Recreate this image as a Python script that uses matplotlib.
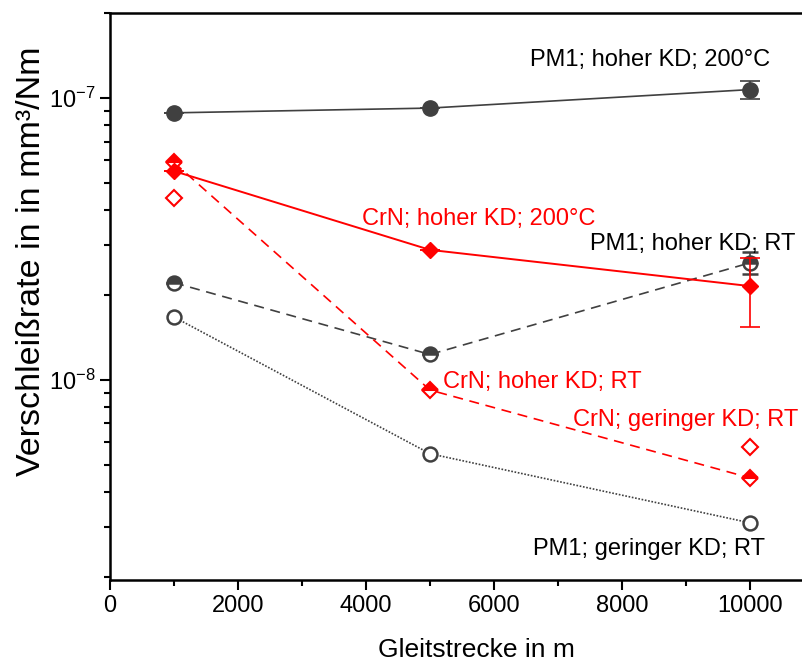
import matplotlib
matplotlib.use("Agg")
import matplotlib.pyplot as plt
from matplotlib.ticker import FixedLocator, LogLocator, NullFormatter

plt.rcParams['font.family'] = ['Liberation Sans', 'DejaVu Sans']

x = [1000, 5000, 10000]
pm1_hoch_200 = [8.85e-8, 9.2e-8, 1.07e-7]
pm1_hoch_200_err = [0, 0, 8e-9]
crn_hoch_200 = [5.5e-8, 2.89e-8, 2.15e-8]
crn_hoch_200_lo = [0, 0, 0.61e-8]
crn_hoch_200_hi = [0, 0, 0.56e-8]
crn_hoch_rt = [5.9e-8, 9.2e-9, 4.49e-9]
crn_ger_x = [1000, 10000]
crn_ger_rt = [4.41e-8, 5.78e-9]
pm1_hoch_rt = [2.21e-8, 1.23e-8, 2.6e-8]
pm1_hoch_rt_err = [0, 0, 2.3e-9]
pm1_ger_rt = [1.67e-8, 5.47e-9, 3.11e-9]

gray = '#404040'
red = '#ff0000'

W, H = 802, 666
fig = plt.figure(figsize=(W/100, H/100), dpi=100)
l, r, t, b = 110, 812, 13, 580
ax = fig.add_axes([l/W, (H-b)/H, (r-l)/W, (b-t)/H])

ax.set_yscale('log')
ax.set_xlim(0, (r-l)/64*1000)
ax.set_ylim(1.95e-9, 2.0e-7)

# PM1 geringer KD RT (dotted, open circles)
ax.plot(x, pm1_ger_rt, color=gray, ls=(0, (1, 1)), lw=1.2, marker='o', ms=10,
        mfc='white', mec=gray, mew=1.8, zorder=3)
# PM1 hoher KD RT (dashed, half-filled circles)
ax.errorbar(x, pm1_hoch_rt, yerr=pm1_hoch_rt_err, color=gray, ls=(0, (6, 4)), lw=1.2,
            marker='o', ms=10, fillstyle='top', mfc=gray, mfcalt='white', mec=gray,
            mew=1.8, capsize=6, elinewidth=1.2, capthick=1.2, zorder=3)
# CrN geringer KD RT (open diamonds, no line)
ax.plot(crn_ger_x, crn_ger_rt, ls='none', marker='D', ms=8.5, mfc='white', mec=red,
        mew=1.5, zorder=3)
# CrN hoher KD RT (dashed, half-filled diamonds)
ax.plot(x, crn_hoch_rt, color=red, ls=(0, (6, 4)), lw=1.2, marker='D', ms=8.5,
        fillstyle='top', mfc=red, mfcalt='white', mec=red, mew=1.5, zorder=4)
# CrN hoher KD 200°C (solid, filled diamonds)
ax.errorbar(x, crn_hoch_200, yerr=[crn_hoch_200_lo, crn_hoch_200_hi], color=red, ls='-',
            lw=1.4, marker='D', ms=8.5, mfc=red, mec=red, capsize=7, elinewidth=1.2,
            capthick=1.2, zorder=5)
# PM1 hoher KD 200°C (solid, filled circles)
ax.errorbar(x, pm1_hoch_200, yerr=pm1_hoch_200_err, color=gray, ls='-', lw=1.2,
            marker='o', ms=11, mfc=gray, mec=gray, capsize=7, elinewidth=1.2,
            capthick=1.2, zorder=5)

fs = 17
ax.text(6560, 1.365e-7, 'PM1; hoher KD; 200°C', fontsize=fs, color='black', va='center')
ax.text(3940, 3.72e-8, 'CrN; hoher KD; 200°C', fontsize=fs, color=red, va='center')
ax.text(7500, 3.03e-8, 'PM1; hoher KD; RT', fontsize=fs, color='black', va='center')
ax.text(5200, 9.84e-9, 'CrN; hoher KD; RT', fontsize=fs, color=red, va='center')
ax.text(7230, 7.21e-9, 'CrN; geringer KD; RT', fontsize=fs, color=red, va='center')
ax.text(6610, 2.52e-9, 'PM1; geringer KD; RT', fontsize=fs, color='black', va='center')

ax.xaxis.set_major_locator(FixedLocator([0, 2000, 4000, 6000, 8000, 10000]))
ax.xaxis.set_minor_locator(FixedLocator([1000, 3000, 5000, 7000, 9000]))
ax.yaxis.set_major_locator(LogLocator(base=10))
ax.yaxis.set_minor_locator(LogLocator(base=10, subs=range(2, 10)))
ax.yaxis.set_minor_formatter(NullFormatter())

ax.tick_params(which='major', direction='out', length=7, width=1.5, labelsize=17,
               top=False, right=False)
ax.tick_params(which='minor', direction='out', length=4, width=1.5, top=False, right=False)
for s in ax.spines.values():
    s.set_linewidth(1.8)

ax.set_xlabel('Gleitstrecke in m', fontsize=19, va='top')
ax.xaxis.set_label_coords((476-l)/(r-l), (b-638)/(b-t))
ax.set_ylabel('Verschleißrate in in mm³/Nm', fontsize=24.5)
ax.yaxis.set_label_coords((47-l)/(r-l), (b-261)/(b-t))

fig.savefig('out.png', dpi=100)
